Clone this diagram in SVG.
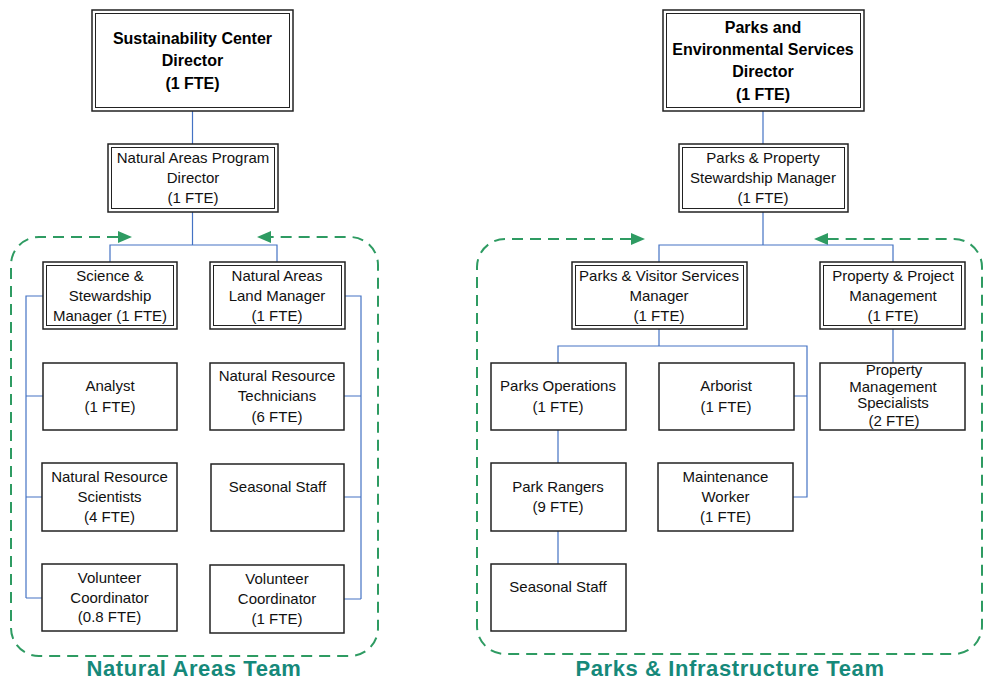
<svg xmlns="http://www.w3.org/2000/svg" width="985" height="681" viewBox="0 0 985 681">
<style>
.box{fill:#fff;stroke:#222;stroke-width:1.5}
.inner{fill:none;stroke:#222;stroke-width:1}
.t{font-family:"Liberation Sans",Arial,sans-serif;font-size:15px;fill:#111;text-anchor:middle}
.tb{font-family:"Liberation Sans",Arial,sans-serif;font-size:16px;font-weight:bold;fill:#000;text-anchor:middle}
.conn{fill:none;stroke:#4472C4;stroke-width:1.2}
.team{fill:none;stroke:#2E9B62;stroke-width:2;stroke-dasharray:11 7}
.arrow{fill:#2E9B62}
.label{font-family:"Liberation Sans",Arial,sans-serif;font-size:22px;font-weight:bold;letter-spacing:0.6px;fill:#16897A;text-anchor:middle}
</style>
<rect width="985" height="681" fill="#fff"/>

<g id="teams">
<path class="team" d="M118,237 H39 A28,28 0 0 0 11,265 V628 A28,28 0 0 0 39,656 H350 A28,28 0 0 0 378,628 V265 A28,28 0 0 0 350,237 H271"/>
<polygon class="arrow" points="118,231 132,237 118,243"/>
<polygon class="arrow" points="271,231 257,237 271,243"/>
<path class="team" d="M631,239 H505 A28,28 0 0 0 477,267 V626 A28,28 0 0 0 505,654 H954 A28,28 0 0 0 982,626 V267 A28,28 0 0 0 954,239 H828"/>
<polygon class="arrow" points="631,233 645,239 631,245"/>
<polygon class="arrow" points="828,233 814,239 828,245"/>
<text class="label" x="194" y="676">Natural Areas Team</text>
<text class="label" x="730" y="676">Parks &amp; Infrastructure Team</text>
</g>

<g id="connectors">
<path class="conn" d="M192.5,111 V144"/>
<path class="conn" d="M192.5,212 V245 M110,262 V245 H277 V262"/>
<path class="conn" d="M43,296 H26 V598 M26,396 H43 M26,497 H42 M26,598 H42"/>
<path class="conn" d="M345,296 H361 V599 M361,396 H344 M361,497 H344 M361,599 H344"/>
<path class="conn" d="M763,111 V144"/>
<path class="conn" d="M763,212 V245 M659,262 V245 H893 V262"/>
<path class="conn" d="M659,329 V346 M558,363 V346 H807 V497 H793 M807,396 H794"/>
<path class="conn" d="M893,329 V363"/>
<path class="conn" d="M558,430 V463 M558,531 V564"/>
</g>

<g id="sc-director">
<rect class="box" x="92" y="10" width="201" height="101"/>
<rect class="inner" x="95.5" y="13.5" width="194" height="94"/>
<text class="tb" x="192.5" y="44">Sustainability Center</text>
<text class="tb" x="192.5" y="66">Director</text>
<text class="tb" x="192.5" y="89">(1 FTE)</text>
</g>

<g id="na-program-director">
<rect class="box" x="108" y="144" width="170" height="68"/>
<rect class="inner" x="111.5" y="147.5" width="163" height="61"/>
<text class="t" x="193" y="163">Natural Areas Program</text>
<text class="t" x="193" y="183">Director</text>
<text class="t" x="193" y="203">(1 FTE)</text>
</g>

<g id="science-stewardship">
<rect class="box" x="43" y="262" width="134" height="67"/>
<rect class="inner" x="46.5" y="265.5" width="127" height="60"/>
<text class="t" x="110" y="281">Science &amp;</text>
<text class="t" x="110" y="301">Stewardship</text>
<text class="t" x="110" y="321">Manager (1 FTE)</text>
</g>

<g id="na-land-manager">
<rect class="box" x="210" y="262" width="135" height="67"/>
<rect class="inner" x="213.5" y="265.5" width="128" height="60"/>
<text class="t" x="277" y="281">Natural Areas</text>
<text class="t" x="277" y="301">Land Manager</text>
<text class="t" x="277" y="321">(1 FTE)</text>
</g>

<g id="analyst">
<rect class="box" x="43" y="363" width="134" height="67"/>
<text class="t" x="110" y="391">Analyst</text>
<text class="t" x="110" y="412">(1 FTE)</text>
</g>

<g id="nr-technicians">
<rect class="box" x="210" y="363" width="134" height="67"/>
<text class="t" x="277" y="381">Natural Resource</text>
<text class="t" x="277" y="401">Technicians</text>
<text class="t" x="277" y="422">(6 FTE)</text>
</g>

<g id="nr-scientists">
<rect class="box" x="42" y="463" width="135" height="68"/>
<text class="t" x="109.5" y="482">Natural Resource</text>
<text class="t" x="109.5" y="502">Scientists</text>
<text class="t" x="109.5" y="522">(4 FTE)</text>
</g>

<g id="na-seasonal">
<rect class="box" x="211" y="464" width="133" height="67"/>
<text class="t" x="277.5" y="492">Seasonal Staff</text>
</g>

<g id="na-volunteer-1">
<rect class="box" x="42" y="564" width="135" height="67"/>
<text class="t" x="109.5" y="583">Volunteer</text>
<text class="t" x="109.5" y="603">Coordinator</text>
<text class="t" x="109.5" y="622">(0.8 FTE)</text>
</g>

<g id="na-volunteer-2">
<rect class="box" x="210" y="565" width="134" height="68"/>
<text class="t" x="277" y="584">Volunteer</text>
<text class="t" x="277" y="604">Coordinator</text>
<text class="t" x="277" y="624">(1 FTE)</text>
</g>

<g id="pes-director">
<rect class="box" x="663" y="10" width="201" height="101"/>
<rect class="inner" x="666.5" y="13.5" width="194" height="94"/>
<text class="tb" x="763" y="33">Parks and</text>
<text class="tb" x="763" y="55">Environmental Services</text>
<text class="tb" x="763" y="77">Director</text>
<text class="tb" x="763" y="100">(1 FTE)</text>
</g>

<g id="pps-manager">
<rect class="box" x="679" y="144" width="169" height="68"/>
<rect class="inner" x="682.5" y="147.5" width="162" height="61"/>
<text class="t" x="763" y="163">Parks &amp; Property</text>
<text class="t" x="763" y="183">Stewardship Manager</text>
<text class="t" x="763" y="203">(1 FTE)</text>
</g>

<g id="pvs-manager">
<rect class="box" x="572" y="262" width="175" height="67"/>
<rect class="inner" x="575.5" y="265.5" width="168" height="60"/>
<text class="t" x="659" y="281">Parks &amp; Visitor Services</text>
<text class="t" x="659" y="301">Manager</text>
<text class="t" x="659" y="321">(1 FTE)</text>
</g>

<g id="ppm">
<rect class="box" x="820" y="262" width="145" height="67"/>
<rect class="inner" x="823.5" y="265.5" width="138" height="60"/>
<text class="t" x="893" y="281">Property &amp; Project</text>
<text class="t" x="893" y="301">Management</text>
<text class="t" x="893" y="321">(1 FTE)</text>
</g>

<g id="parks-operations">
<rect class="box" x="491" y="363" width="135" height="67"/>
<text class="t" x="558" y="391">Parks Operations</text>
<text class="t" x="558" y="412">(1 FTE)</text>
</g>

<g id="arborist">
<rect class="box" x="659" y="363" width="135" height="67"/>
<text class="t" x="726" y="391">Arborist</text>
<text class="t" x="726" y="412">(1 FTE)</text>
</g>

<g id="pm-specialists">
<rect class="box" x="820" y="363" width="145" height="67"/>
<text class="t" x="894" y="375">Property</text>
<text class="t" x="893" y="392">Management</text>
<text class="t" x="893" y="408">Specialists</text>
<text class="t" x="894" y="426">(2 FTE)</text>
</g>

<g id="park-rangers">
<rect class="box" x="491" y="463" width="135" height="68"/>
<text class="t" x="558" y="492">Park Rangers</text>
<text class="t" x="558" y="512">(9 FTE)</text>
</g>

<g id="maintenance-worker">
<rect class="box" x="658" y="463" width="135" height="68"/>
<text class="t" x="725.5" y="482">Maintenance</text>
<text class="t" x="725.5" y="502">Worker</text>
<text class="t" x="725.5" y="522">(1 FTE)</text>
</g>

<g id="pi-seasonal">
<rect class="box" x="491" y="564" width="135" height="67"/>
<text class="t" x="558" y="592">Seasonal Staff</text>
</g>
</svg>
